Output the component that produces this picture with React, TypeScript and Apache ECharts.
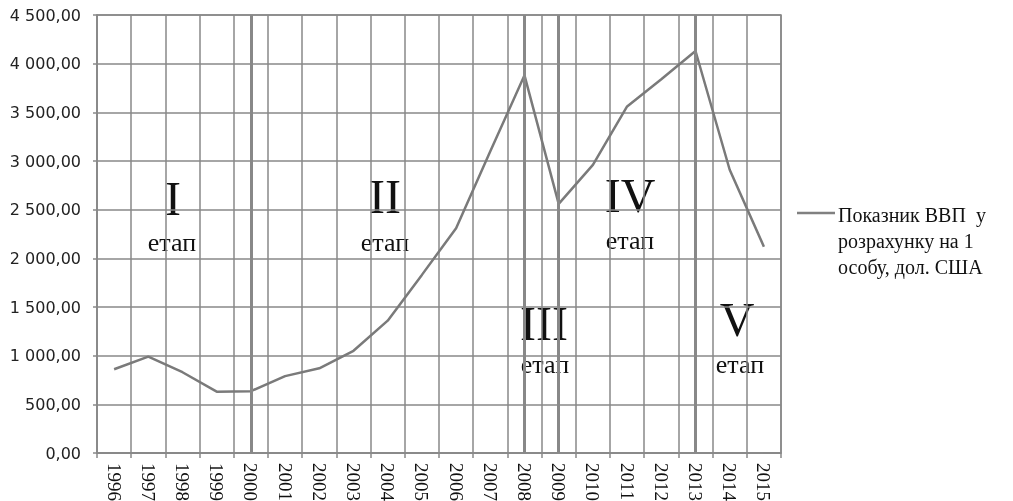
import React, { useEffect, useRef } from "react";
import * as echarts from "echarts";

const years = ["1996","1997","1998","1999","2000","2001","2002","2003","2004","2005","2006","2007","2008","2009","2010","2011","2012","2013","2014","2015"];
const gdpPerCapita = [860, 990, 830, 630, 635, 790, 870, 1050, 1360, 1830, 2310, 3100, 3880, 2560, 2960, 3560, 3840, 4130, 2910, 2120];
const stageBoundaries = ["2000", "2008", "2009", "2013"];
const seriesName = "Показник ВВП  у\nрозрахунку на 1\nособу, дол. США";
const stageLabels = [
  { roman: "I", x: 173, y: 222, ex: 172, ey: 255 },
  { roman: "II", x: 385, y: 220, ex: 385, ey: 255 },
  { roman: "III", x: 544, y: 347, ex: 545, ey: 377 },
  { roman: "IV", x: 630, y: 219, ex: 630, ey: 253 },
  { roman: "V", x: 737, y: 343, ex: 740, ey: 377 },
];

const fmt = (v: number) => {
  const s = Math.round(v).toString().replace(/\B(?=(\d{3})+(?!\d))/g, " ");
  return s + ",00";
};

export default function App() {
  const ref = useRef<HTMLDivElement>(null);
  useEffect(() => {
    if (!ref.current) return;
    const chart = echarts.init(ref.current, undefined, { renderer: "svg" });
    const grid = "#888888";
    const serif = "'Liberation Serif', 'Times New Roman', serif";
    const graphics: any[] = [];
    stageLabels.forEach((s) => {
      graphics.push({
        type: "text", x: s.x, y: s.y,
        style: { text: s.roman, font: `48px ${serif}`, fill: "#111", textAlign: "center", textVerticalAlign: "bottom" },
      });
      graphics.push({
        type: "text", x: s.ex, y: s.ey,
        style: { text: "етап", font: `26px ${serif}`, fill: "#111", textAlign: "center", textVerticalAlign: "bottom" },
      });
    });
    graphics.push({ type: "line", shape: { x1: 797, y1: 213, x2: 835, y2: 213 }, style: { stroke: "#808080", lineWidth: 2.5 } });
    graphics.push({
      type: "text", x: 838, y: 202,
      style: { text: seriesName, font: `20px ${serif}`, lineHeight: 26, fill: "#111", textAlign: "left", textVerticalAlign: "top" },
    });
    chart.setOption({
      animation: false,
      grid: { left: 97, right: 232, top: 15, bottom: 48, show: true, borderColor: grid, borderWidth: 1.5, outerBoundsMode: "none", containLabel: false },
      xAxis: {
        type: "category",
        data: years,
        boundaryGap: true,
        axisLine: { lineStyle: { color: grid, width: 1.5 } },
        axisTick: { show: true, length: 5, lineStyle: { color: grid, width: 1.5 } },
        splitLine: { show: true, lineStyle: { color: grid, width: 1.5 } },
        axisLabel: { rotate: -90, margin: 10, fontFamily: serif, fontSize: 19, color: "#111", interval: 0 },
      },
      yAxis: {
        type: "value",
        min: 0, max: 4500, interval: 500,
        axisLine: { show: true, lineStyle: { color: grid, width: 1.5 } },
        axisTick: { show: true, length: 4, lineStyle: { color: grid, width: 1.5 } },
        splitLine: { show: true, lineStyle: { color: grid, width: 1.5 } },
        axisLabel: { formatter: fmt, margin: 16, fontFamily: "'DejaVu Sans', sans-serif", fontSize: 16, color: "#222" },
      },
      series: [
        {
          name: seriesName,
          type: "line",
          data: gdpPerCapita,
          symbol: "none",
          lineStyle: { color: "#7a7a7a", width: 2.5 },
          markLine: {
            silent: true,
            symbol: "none",
            label: { show: false },
            lineStyle: { color: "#888888", width: 3, type: "solid" },
            data: stageBoundaries.map((y) => ({ xAxis: y })),
          },
        },
      ],
      graphic: graphics,
    });
    return () => chart.dispose();
  }, []);
  return <div ref={ref} style={{ position: "fixed", left: 0, top: 0, width: 1013, height: 501 }} />;
}
